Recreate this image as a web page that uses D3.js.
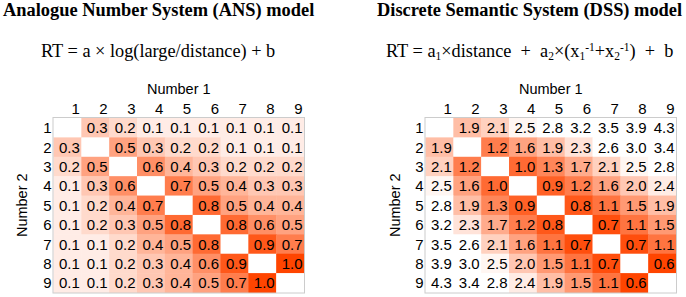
<!DOCTYPE html>
<html>
<head>
<meta charset="utf-8">
<script src="https://cdn.jsdelivr.net/npm/d3@7"></script>
<style>
  html, body { margin: 0; padding: 0; background: #fff; }
  svg { display: block; }
</style>
</head>
<body>
<svg id="chart" width="686" height="297"></svg>
<script>
// ---------- DATA ----------
const numbers1 = [1, 2, 3, 4, 5, 6, 7, 8, 9];   // columns (Number 1)
const numbers2 = [1, 2, 3, 4, 5, 6, 7, 8, 9];   // rows (Number 2)

// ANS model: rows = Number 2, cols = Number 1 (null = diagonal)
const ansValues = [
  [null, 0.3, 0.2, 0.1, 0.1, 0.1, 0.1, 0.1, 0.1],
  [0.3, null, 0.5, 0.3, 0.2, 0.2, 0.1, 0.1, 0.1],
  [0.2, 0.5, null, 0.6, 0.4, 0.3, 0.2, 0.2, 0.2],
  [0.1, 0.3, 0.6, null, 0.7, 0.5, 0.4, 0.3, 0.3],
  [0.1, 0.2, 0.4, 0.7, null, 0.8, 0.5, 0.4, 0.4],
  [0.1, 0.2, 0.3, 0.5, 0.8, null, 0.8, 0.6, 0.5],
  [0.1, 0.1, 0.2, 0.4, 0.5, 0.8, null, 0.9, 0.7],
  [0.1, 0.1, 0.2, 0.3, 0.4, 0.6, 0.9, null, 1.0],
  [0.1, 0.1, 0.2, 0.3, 0.4, 0.5, 0.7, 1.0, null]
];

// DSS model
const dssValues = [
  [null, 1.9, 2.1, 2.5, 2.8, 3.2, 3.5, 3.9, 4.3],
  [1.9, null, 1.2, 1.6, 1.9, 2.3, 2.6, 3.0, 3.4],
  [2.1, 1.2, null, 1.0, 1.3, 1.7, 2.1, 2.5, 2.8],
  [2.5, 1.6, 1.0, null, 0.9, 1.2, 1.6, 2.0, 2.4],
  [2.8, 1.9, 1.3, 0.9, null, 0.8, 1.1, 1.5, 1.9],
  [3.2, 2.3, 1.7, 1.2, 0.8, null, 0.7, 1.1, 1.5],
  [3.5, 2.6, 2.1, 1.6, 1.1, 0.7, null, 0.7, 1.1],
  [3.9, 3.0, 2.5, 2.0, 1.5, 1.1, 0.7, null, 0.6],
  [4.3, 3.4, 2.8, 2.4, 1.9, 1.5, 1.1, 0.6, null]
];

const titles = ["Analogue Number System (ANS) model", "Discrete Semantic System (DSS) model"];
const xLabel = "Number 1";
const yLabel = "Number 2";

// ---------- DRAW ----------
const svg = d3.select("#chart");
const SANS = "'Liberation Sans', Arial, sans-serif";
const SERIF = "'Liberation Serif', 'Times New Roman', serif";
const HOT = "#ff4500";

const panels = [
  { values: ansValues, x0: 53.5, x1: 304, titleX: 3, formulaX: 41,
    color: d3.scaleLinear().domain([0, 1]).range(["#ffffff", HOT]).clamp(true),
    ylabX: 27 },
  { values: dssValues, x0: 425.5, x1: 676, titleX: 377, formulaX: 386,
    color: d3.scaleLinear().domain([2.6, 0.6]).range(["#ffffff", HOT]).clamp(true),
    ylabX: 400 }
];
const y0 = 118, y1 = 292.5;

panels.forEach((p, pi) => {
  const g = svg.append("g");
  const x = d3.scaleBand().domain(numbers1).range([p.x0, p.x1]);
  const y = d3.scaleBand().domain(numbers2).range([y0, y1]);

  // title
  g.append("text").attr("x", p.titleX).attr("y", 16)
    .attr("font-family", SERIF).attr("font-weight", "bold").attr("font-size", 18.4)
    .text(titles[pi]);

  // formula
  const f = g.append("text").attr("x", p.formulaX).attr("y", 57)
    .attr("font-family", SERIF).attr("font-size", 18.3)
    .style("white-space", "pre");
  if (pi === 0) {
    f.text("RT = a \u00d7 log(large/distance) + b");
  } else {
    const parts = [
      ["RT = a", 0], ["1", 1], ["\u00d7distance  +  a", 0], ["2", 1], ["\u00d7(x", 0],
      ["1", 1], ["-1", 2], ["+x", 0], ["2", 1], ["-1", 2], [")  +  b", 0]
    ];
    let state = 0;
    parts.forEach(([t, s]) => {
      const ts = f.append("tspan").text(t);
      // s: 0 normal, 1 subscript, 2 superscript
      const target = s === 1 ? 3 : (s === 2 ? -6 : 0);
      const dy = target - state;
      if (dy !== 0) ts.attr("dy", dy);
      state = target;
      if (s !== 0) ts.attr("font-size", 11.5);
    });
  }

  // cells
  const cells = [];
  p.values.forEach((row, ri) => row.forEach((v, ci) => {
    cells.push({ r: numbers2[ri], c: numbers1[ci], v });
  }));

  g.selectAll("rect.cell").data(cells).enter().append("rect")
    .attr("class", "cell")
    .attr("x", d => x(d.c)).attr("y", d => y(d.r))
    .attr("width", x.bandwidth() + 0.5).attr("height", y.bandwidth() + 0.5)
    .attr("fill", d => d.v == null ? "#ffffff" : p.color(d.v));

  g.selectAll("text.val").data(cells.filter(d => d.v != null)).enter().append("text")
    .attr("class", "val")
    .attr("x", d => x(d.c) + x.bandwidth() - 1.5)
    .attr("y", d => y(d.r) + y.bandwidth() * 0.79)
    .attr("text-anchor", "end")
    .attr("font-family", SANS).attr("font-size", 15).attr("fill", "#000")
    .text(d => d3.format(".1f")(d.v));

  // border
  g.append("rect").attr("x", p.x0 - 0.5).attr("y", y0 - 0.5)
    .attr("width", p.x1 - p.x0 + 1).attr("height", y1 - y0 + 1)
    .attr("fill", "none").attr("stroke", "#cccccc").attr("stroke-width", 1);

  // column ticks (top)
  g.selectAll("text.ct").data(numbers1).enter().append("text")
    .attr("class", "ct")
    .attr("x", d => x(d) + x.bandwidth() - 1.5).attr("y", 114)
    .attr("text-anchor", "end")
    .attr("font-family", SANS).attr("font-size", 15)
    .text(d => d);

  // row ticks (left)
  g.selectAll("text.rt").data(numbers2).enter().append("text")
    .attr("class", "rt")
    .attr("x", p.x0 - 2).attr("y", d => y(d) + y.bandwidth() * 0.79)
    .attr("text-anchor", "end")
    .attr("font-family", SANS).attr("font-size", 15)
    .text(d => d);

  // axis labels
  g.append("text").attr("x", (p.x0 + p.x1) / 2).attr("y", 94)
    .attr("text-anchor", "middle")
    .attr("font-family", SANS).attr("font-size", 14.5)
    .text(xLabel);
  g.append("text")
    .attr("transform", `translate(${p.ylabX},${(y0 + y1) / 2}) rotate(-90)`)
    .attr("text-anchor", "middle")
    .attr("font-family", SANS).attr("font-size", 14.5)
    .text(yLabel);
});
</script>
</body>
</html>
